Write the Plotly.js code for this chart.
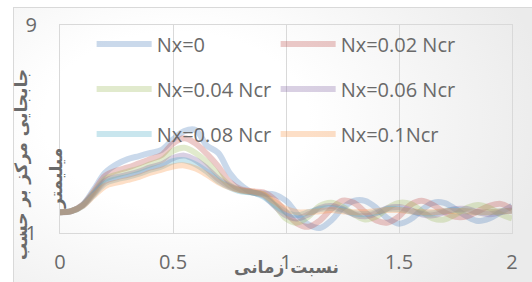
<!DOCTYPE html>
<html>
<head>
<meta charset="utf-8">
<script src="https://cdn.plot.ly/plotly-3.0.1.min.js"></script>
<style>
  html, body { margin: 0; padding: 0; width: 532px; height: 282px; overflow: hidden; background: #ffffff; }
  #frame { position: absolute; left: 13px; top: 7px; width: 540px; height: 280px;
           border-left: 1px solid #d9d9d9; border-top: 1px solid #d9d9d9;
           background: radial-gradient(ellipse 70% 90% at 30% 40%, #ffffff 35%, #ebebeb 100%); }
  #chart { position: absolute; left: 0; top: 0; width: 532px; height: 282px; }
</style>
</head>
<body>
<div id="frame"></div>
<div id="chart"></div>
<script>
const xVals = [0, 0.05, 0.1, 0.15, 0.2, 0.25, 0.3, 0.35, 0.4, 0.45, 0.5, 0.55, 0.6, 0.65, 0.7, 0.75, 0.8, 0.85, 0.9, 0.95,
               1.0, 1.05, 1.1, 1.15, 1.2, 1.25, 1.3, 1.35, 1.4, 1.45, 1.5, 1.55, 1.6, 1.65, 1.7, 1.75, 1.8, 1.85, 1.9, 1.95, 2.0];

const nx0    = [0, 0.05, 0.35, 1.1, 1.9, 2.3, 2.55, 2.7, 2.85, 3.0, 3.5, 3.9, 3.95, 3.2, 2.85, 1.9, 1.3, 0.95, 0.9, 0.85,
                0.55, -0.1, -0.6, -0.76, -0.4, 0.2, 0.55, 0.55, 0.2, -0.3, -0.55, -0.35, 0.1, 0.45, 0.45, 0.15, -0.2, -0.42, -0.3, 0.0, 0.3];
const nx002  = [0, 0.05, 0.35, 1.0, 1.75, 2.0, 2.15, 2.35, 2.55, 2.75, 3.3, 3.55, 3.3, 2.8, 2.2, 1.45, 1.1, 1.0, 0.95, 0.6,
                0.0, -0.55, -0.7, -0.4, 0.15, 0.55, 0.45, 0.0, -0.4, -0.5, -0.2, 0.35, 0.55, 0.35, 0.0, -0.22, -0.2, 0.05, 0.3, 0.4, 0.15];
const nx004  = [0, 0.05, 0.33, 0.95, 1.6, 1.8, 1.95, 2.1, 2.3, 2.5, 2.95, 3.1, 2.85, 2.4, 1.8, 1.3, 1.05, 0.95, 0.85, 0.35,
                -0.3, -0.5, -0.2, 0.3, 0.45, 0.25, -0.1, -0.35, -0.2, 0.2, 0.45, 0.4, 0.05, -0.3, -0.35, -0.1, 0.2, 0.35, 0.2, -0.1, -0.3];
const nx006  = [0, 0.05, 0.32, 0.9, 1.5, 1.68, 1.8, 1.95, 2.15, 2.3, 2.6, 2.72, 2.5, 2.1, 1.6, 1.25, 1.05, 0.95, 0.8, 0.3,
                -0.15, -0.3, -0.1, 0.2, 0.3, 0.15, -0.1, -0.2, -0.05, 0.2, 0.25, 0.1, -0.1, -0.15, 0.0, 0.15, 0.15, 0.0, -0.1, 0.0, 0.1];
const nx008  = [0, 0.05, 0.3, 0.85, 1.4, 1.58, 1.7, 1.85, 2.05, 2.2, 2.45, 2.5, 2.3, 1.95, 1.5, 1.2, 1.0, 0.95, 0.75, 0.35,
                0.0, -0.15, 0.0, 0.15, 0.2, 0.1, -0.05, -0.1, 0.0, 0.15, 0.15, 0.05, -0.05, -0.05, 0.05, 0.1, 0.05, 0.0, 0.0, 0.05, 0.05];
const nx01   = [0, 0.05, 0.3, 0.8, 1.26, 1.42, 1.55, 1.7, 1.9, 2.05, 2.2, 2.25, 2.1, 1.8, 1.45, 1.2, 1.05, 1.0, 0.85, 0.5,
                0.15, 0.0, 0.0, 0.05, 0.1, 0.05, 0.0, 0.0, 0.05, 0.1, 0.1, 0.05, 0.0, 0.0, 0.05, 0.05, 0.05, 0.0, 0.0, 0.05, 0.05];

const seriesNames  = ["Nx=0", "Nx=0.02 Ncr", "Nx=0.04 Ncr", "Nx=0.06 Ncr", "Nx=0.08 Ncr", "Nx=0.1Ncr"];
const seriesValues = [nx0, nx002, nx004, nx006, nx008, nx01];
const seriesColors = ["rgba(79,129,189,0.3)", "rgba(192,80,77,0.3)", "rgba(155,187,89,0.3)",
                      "rgba(128,100,162,0.3)", "rgba(75,172,198,0.3)", "rgba(247,150,70,0.3)"];
const legendIds = ["legend", "legend", "legend2", "legend2", "legend3", "legend3"];

const xTickVals = [0, 0.5, 1, 1.5, 2];
const xTickText = ["0", "0.5", "1", "1.5", "2"];
const yTickVals = [-1, 9];
const yTickText = ["-1", "9"];

const xTitle = "نسبت زمانی";
const yTitle1 = "جابجایی مرکز بر حسب";
const yTitle2 = "میلیمتر";

const traces = seriesNames.map((name, i) => ({
  type: "scatter", mode: "lines", name: name,
  x: xVals, y: seriesValues[i],
  line: { color: seriesColors[i], width: 6, shape: "spline", smoothing: 1 },
  legend: legendIds[i], hoverinfo: "skip"
}));

const legendFont = { family: "Open Sans, Liberation Sans, sans-serif", size: 20, color: "#6a6a6a" };
function mkLegend(y) {
  return { orientation: "h", x: 0.07, xanchor: "left", y: y, yanchor: "middle",
           entrywidth: 114, entrywidthmode: "pixels", itemwidth: 55,
           bgcolor: "rgba(0,0,0,0)", font: legendFont, traceorder: "normal" };
}

const tickFont = { family: "Open Sans, Liberation Sans, sans-serif", size: 20, color: "#6a6a6a" };
const titleFont = { family: "DejaVu Sans, sans-serif", size: 17, color: "#6a6a6a", weight: "bold" };

const layout = {
  width: 532, height: 282,
  margin: { l: 60, r: 20, t: 25, b: 49, pad: 0 },
  paper_bgcolor: "rgba(0,0,0,0)", plot_bgcolor: "rgba(0,0,0,0)",
  showlegend: true,
  legend: mkLegend(0.909),
  legend2: mkLegend(0.692),
  legend3: mkLegend(0.476),
  xaxis: {
    range: [0, 2], tickvals: xTickVals, ticktext: xTickText, ticks: "",
    showgrid: true, gridcolor: "#d9d9d9", gridwidth: 1,
    showline: true, linecolor: "#d9d9d9", linewidth: 1, mirror: true,
    zeroline: false, tickfont: tickFont, ticklabelstandoff: 11
  },
  yaxis: {
    range: [-1, 9], tickvals: yTickVals, ticktext: yTickText, ticks: "",
    showgrid: false,
    showline: true, linecolor: "#d9d9d9", linewidth: 1, mirror: true,
    zeroline: false, tickfont: tickFont, ticklabelstandoff: 18
  },
  annotations: [
    { text: xTitle, xref: "paper", yref: "paper", x: 0.502, y: -0.163, xanchor: "center", yanchor: "middle",
      showarrow: false, font: titleFont },
    { text: yTitle1, xref: "paper", yref: "paper", x: -0.084, y: 0.327, xanchor: "center", yanchor: "middle",
      textangle: -90, showarrow: false, font: titleFont },
    { text: yTitle2, xref: "paper", yref: "paper", x: -0.0066, y: 0.26, xanchor: "center", yanchor: "middle",
      textangle: -90, showarrow: false, font: titleFont }
  ]
};

Plotly.newPlot("chart", traces, layout, { staticPlot: true, displayModeBar: false });
</script>
</body>
</html>
